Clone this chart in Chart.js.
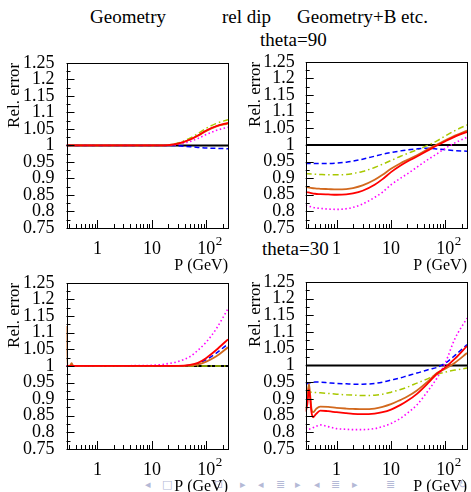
<!DOCTYPE html>
<html><head><meta charset="utf-8">
<script src="https://cdn.jsdelivr.net/npm/chart.js@4.4.0/dist/chart.umd.min.js"></script>
<style>
html,body{margin:0;padding:0;background:#fff;}
#wrap{position:relative;width:471px;height:492px;overflow:hidden;background:#fff;font-family:"Liberation Serif","Times New Roman",serif;}
canvas{position:absolute;}
.t{position:absolute;font-size:19px;line-height:19px;white-space:nowrap;color:#000;}
.nav{position:absolute;top:479px;font-family:"DejaVu Sans";font-size:11px;line-height:11px;color:#b4b9d6;}
</style></head><body>
<div id="wrap">
  <div class="t" style="left:90px;top:7px">Geometry</div>
  <div class="t" style="left:222px;top:7px">rel dip</div>
  <div class="t" style="left:297px;top:7px">Geometry+B etc.</div>
  <div class="t" style="left:260px;top:30px">theta=90</div>
  <div class="t" style="left:262px;top:239px">theta=30</div>
  <span class="nav" style="left:145px">◂</span>
  <span class="nav" style="left:162px">□</span>
  <span class="nav" style="left:214px">⊡</span>
  <span class="nav" style="left:240px">▸</span>
  <span class="nav" style="left:258px">◂</span>
  <span class="nav" style="left:276px">≣</span>
  <span class="nav" style="left:295px">▸</span>
  <span class="nav" style="left:314px">◂</span>
  <span class="nav" style="left:331px">≣</span>
  <span class="nav" style="left:352px">▸</span>
  <span class="nav" style="left:386px">≣</span>
  <span class="nav" style="left:458px">↻</span>
  <canvas id="c1" width="235" height="238" style="left:0px;top:40px"></canvas>
  <canvas id="c2" width="230" height="238" style="left:241px;top:40px"></canvas>
  <canvas id="c3" width="235" height="239" style="left:0px;top:260px"></canvas>
  <canvas id="c4" width="230" height="239" style="left:241px;top:260px"></canvas>
</div>
<script>
// ---------- axes ----------
const X_MIN = 0.27, X_MAX = 250;
const Y_MIN = 0.75, Y_MAX = 1.25;
const X_TICKS = [1, 10, 100];
const X_TICK_LABELS = ['1', '10', '10'];
const X_TICK_EXP = ['', '', '2'];
const Y_TICKS = [0.75, 0.8, 0.85, 0.9, 0.95, 1, 1.05, 1.1, 1.15, 1.2, 1.25];
const Y_TICK_LABELS = ['0.75', '0.8', '0.85', '0.9', '0.95', '1', '1.05', '1.1', '1.15', '1.2', '1.25'];

// ---------- data ----------
const P = [0.27, 0.3, 0.4, 0.5, 0.7, 1, 1.5, 2, 3, 5, 7, 10, 15, 20, 30, 50, 70, 100, 150, 250];
const REF_P = [0.27, 250];
const REF_V = [1, 1];

// Geometry, theta=90
const TL_BLUE    = [1,1,1,1,1,1,1,1,1,1,1,1,1,1.000,0.999,0.996,0.994,0.992,0.991,0.990];
const TL_YELLOW  = [1,1,1,1,1,1,1,1,1,1,1,1,1,1.001,1.007,1.022,1.036,1.052,1.066,1.078];
const TL_ORANGE  = [1,1,1,1,1,1,1,1,1,1,1,1,1,1.001,1.005,1.017,1.029,1.044,1.057,1.066];
const TL_RED     = [1,1,1,1,1,1,1,1,1,1,1,1,1,1.001,1.005,1.018,1.030,1.045,1.058,1.068];
const TL_MAGENTA = [1,1,1,1,1,1,1,1,1,1,1,1,1,1.000,1.003,1.012,1.021,1.033,1.045,1.055];

// Geometry+B, theta=90
const TR_BLUE    = [0.944,0.944,0.944,0.944,0.944,0.945,0.948,0.951,0.957,0.966,0.972,0.977,0.982,0.985,0.988,0.990,0.988,0.985,0.983,0.981];
const TR_YELLOW  = [0.914,0.913,0.912,0.911,0.910,0.910,0.911,0.914,0.920,0.932,0.942,0.953,0.966,0.974,0.985,1.000,1.012,1.027,1.043,1.060];
const TR_ORANGE  = [0.873,0.872,0.869,0.868,0.867,0.866,0.867,0.870,0.878,0.895,0.910,0.928,0.945,0.955,0.969,0.989,1.001,1.014,1.028,1.043];
const TR_RED     = [0.858,0.857,0.853,0.852,0.851,0.850,0.851,0.854,0.862,0.880,0.897,0.918,0.938,0.950,0.965,0.985,0.998,1.011,1.025,1.039];
const TR_MAGENTA = [0.818,0.816,0.811,0.809,0.807,0.806,0.808,0.812,0.822,0.842,0.858,0.880,0.900,0.913,0.933,0.958,0.973,0.990,1.006,1.023];

// Geometry, theta=30
const BL_BLUE    = [1,1,1,1,1,1,1,1,1,1,1,1,1,1,1,1.002,1.007,1.019,1.038,1.066];
const BL_YELLOW  = [1,1,1,1,1,1,1,1,1,1,1,1,1,1,1,1,1,1,1,1];
const BL_RED     = [1,1,1,1,1,1,1,1,1,1,1,1,1,1,1,1.003,1.009,1.024,1.047,1.080];
const BL_MAGENTA = [1,1,1,1,1,1,1,1,1,1.001,1.001,1.002,1.004,1.007,1.013,1.028,1.047,1.072,1.110,1.172];
const P_BL_ORANGE = [0.27, 0.28, 0.31, 0.335, 0.36, 0.5, 1, 10, 30, 50, 70, 100, 150, 250];
const BL_ORANGE   = [1.12, 1.0, 1.0, 1.008, 1.0, 1.0, 1.0, 1.0, 1.0, 1.001, 1.004, 1.013, 1.028, 1.056];

// Geometry+B, theta=30
const BR_BLUE    = [0.945,0.946,0.950,0.950,0.948,0.946,0.945,0.944,0.944,0.946,0.950,0.956,0.963,0.969,0.977,0.988,0.994,1.007,1.030,1.062];
const BR_YELLOW  = [0.920,0.920,0.919,0.918,0.916,0.914,0.912,0.911,0.910,0.911,0.914,0.920,0.928,0.935,0.947,0.962,0.973,0.980,0.986,0.992];
const BR_MAGENTA = [0.815,0.809,0.816,0.822,0.817,0.811,0.809,0.808,0.808,0.811,0.817,0.826,0.842,0.857,0.882,0.928,0.962,1.008,1.080,1.141];
const P_BR_SPIKE = [0.27,0.29,0.31,0.325,0.345,0.37,0.42,0.5,0.7,1,1.5,2,3,5,7,10,15,20,30,50,70,100,150,250];
const BR_RED     = [0.861,0.885,0.928,0.905,0.860,0.845,0.855,0.865,0.863,0.860,0.857,0.855,0.854,0.856,0.860,0.868,0.882,0.894,0.915,0.950,0.975,0.994,1.020,1.058];
const BR_ORANGE  = [0.865,0.910,0.945,0.915,0.870,0.860,0.870,0.877,0.876,0.873,0.871,0.870,0.869,0.871,0.876,0.884,0.897,0.907,0.925,0.955,0.977,0.990,1.008,1.037];

// ---------- styles ----------
const C_BLACK = '#000000', C_BLUE = '#0000ff', C_YELLOW = '#a8c800', C_MAGENTA = '#ff00ff', C_RED = '#ff0000', C_ORANGE = '#d2691e';

function pts(xs, ys) { return xs.map((x, i) => ({x: x, y: ys[i]})); }
function ds(xs, ys, color, width, dash) {
  return {data: pts(xs, ys), borderColor: color, borderWidth: width, borderDash: dash || [],
          pointRadius: 0, fill: false, cubicInterpolationMode: 'monotone'};
}
function sets(red, orange, magenta, blue, yellow) {
  // first listed is drawn on top
  return [
    ds(red[0], red[1], C_RED, 1.8),
    ds(orange[0], orange[1], C_ORANGE, 1.8),
    ds(P, magenta, C_MAGENTA, 1.6, [1.5, 2.5]),
    ds(P, blue, C_BLUE, 1.5, [5, 3]),
    ds(P, yellow, C_YELLOW, 1.5, [6, 3, 1.5, 3]),
    ds(REF_P, REF_V, C_BLACK, 2)
  ];
}

const axisDecor = {
  id: 'axisDecor',
  afterDraw(chart) {
    const {ctx, chartArea: a} = chart;
    const xs = chart.scales.x, ys = chart.scales.y;
    ctx.save();
    ctx.strokeStyle = '#000';
    ctx.lineWidth = 1;
    ctx.beginPath();
    for (let k = 0; k <= 20; k++) {
      const v = Y_MIN + k * 0.025;
      const py = Math.round(ys.getPixelForValue(v)) + 0.5;
      const len = (k % 2 === 0) ? 8 : 4;
      ctx.moveTo(a.left, py); ctx.lineTo(a.left + len, py);
    }
    for (let e = -1; e <= 2; e++) {
      for (let m = 1; m <= 9; m++) {
        const v = m * Math.pow(10, e);
        if (v < X_MIN || v > X_MAX) continue;
        const px = Math.round(xs.getPixelForValue(v)) + 0.5;
        const len = m === 1 ? 8 : 4;
        ctx.moveTo(px, a.bottom); ctx.lineTo(px, a.bottom - len);
      }
    }
    ctx.stroke();
    const l = Math.round(a.left), t = Math.round(a.top), r = Math.round(a.right), b = Math.round(a.bottom);
    ctx.strokeRect(l + 0.5, t + 0.5, r - l, b - t);
    ctx.fillStyle = '#000';
    X_TICKS.forEach((v, i) => {
      if (!X_TICK_EXP[i]) return;
      ctx.font = '18px "Liberation Serif"';
      const w = ctx.measureText(X_TICK_LABELS[i]).width;
      const px = xs.getPixelForValue(v);
      ctx.font = '13px "Liberation Serif"';
      ctx.textAlign = 'left'; ctx.textBaseline = 'alphabetic';
      ctx.fillText(X_TICK_EXP[i], px + w / 2 + 0.5, a.bottom + 17);
    });
    ctx.restore();
  }
};

Chart.defaults.font.family = '"Liberation Serif", "Times New Roman", serif';
Chart.defaults.color = '#000';

function makePanel(id, datasets, yw, pt, pr, yPad) {
  new Chart(document.getElementById(id), {
    type: 'line',
    data: {datasets: datasets},
    plugins: [axisDecor],
    options: {
      responsive: false, animation: false, devicePixelRatio: 1,
      layout: {padding: {left: 0, top: pt, right: pr, bottom: 0}},
      plugins: {legend: {display: false}, tooltip: {enabled: false}},
      scales: {
        x: {
          type: 'logarithmic', min: X_MIN, max: X_MAX, position: 'bottom',
          grid: {display: false, drawTicks: false, tickLength: 0}, border: {display: false},
          afterBuildTicks: (s) => { s.ticks = X_TICKS.map(v => ({value: v})); },
          afterFit: (s) => { s.height = 50; },
          ticks: {autoSkip: false, maxRotation: 0, minRotation: 0, padding: 10, color: '#000',
                  font: {size: 18}, callback: (v, i) => X_TICK_LABELS[i]},
          title: {display: true, text: 'P (GeV)', align: 'end', color: '#000',
                  font: {size: 16, lineHeight: 1.2}, padding: {top: 0, bottom: 3}}
        },
        y: {
          type: 'linear', min: Y_MIN, max: Y_MAX,
          grid: {display: false, drawTicks: false, tickLength: 0}, border: {display: false},
          afterBuildTicks: (s) => { s.ticks = Y_TICKS.map(v => ({value: v})); },
          afterFit: (s) => { s.width = yw; },
          ticks: {autoSkip: false, padding: yPad, color: '#000', font: {size: 18},
                  callback: (v, i) => Y_TICK_LABELS[i]},
          title: {display: true, text: 'Rel. error', align: 'end', color: '#000',
                  font: {size: 17, lineHeight: 1.2}, padding: {top: 4, bottom: 0}}
        }
      }
    }
  });
}

makePanel('c1', sets([P, TL_RED], [P, TL_ORANGE], TL_MAGENTA, TL_BLUE, TL_YELLOW), 66.5, 19, 7, 12);
makePanel('c2', sets([P, TR_RED], [P, TR_ORANGE], TR_MAGENTA, TR_BLUE, TR_YELLOW), 64.7, 19, 4, 11);
makePanel('c3', sets([P, BL_RED], [P_BL_ORANGE, BL_ORANGE], BL_MAGENTA, BL_BLUE, BL_YELLOW), 66.5, 20.5, 7, 12);
makePanel('c4', sets([P_BR_SPIKE, BR_RED], [P_BR_SPIKE, BR_ORANGE], BR_MAGENTA, BR_BLUE, BR_YELLOW), 64.7, 21, 4, 11);
</script>
</body></html>
